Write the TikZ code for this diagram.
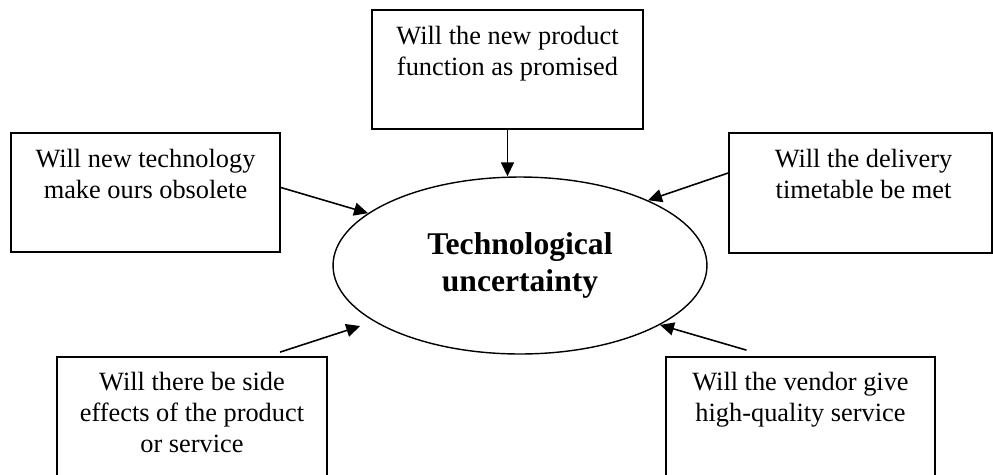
\documentclass[tikz,border=0pt]{standalone}
\usepackage{fontspec}
\setmainfont{Liberation Serif}
\usetikzlibrary{shapes.geometric, arrows.meta, positioning, calc}

\begin{document}
\begin{tikzpicture}[
    x=0.02cm, y=-0.02cm,
    box/.style={rectangle, draw=black, line width=1pt, inner sep=0pt},
    boxtext/.style={anchor=north, align=center, inner sep=0pt, font=\fontsize{15}{17.6}\selectfont},
    arrow/.style={-{Triangle[length=0.28cm, width=0.26cm]}, line width=0.9pt}
]
\useasboundingbox (0,0) rectangle (993,474);
\clip (0,0) rectangle (993,474);

% === Central issue ===
\node[ellipse, draw=black, line width=0.8pt, minimum width=7.48cm, minimum height=3.54cm, inner sep=0pt,
      align=center, font=\fontsize{18}{21}\selectfont\bfseries] (tech) at (520,265.5) {Technological\\uncertainty};

% === Questions around it ===
\node[box, minimum width=5.42cm, minimum height=2.38cm] (func) at (507.5,69.5) {};
\node[boxtext] (functext) at ($(func.north)+(0,17)$) {Will the new product\\function as promised};

\node[box, minimum width=5.38cm, minimum height=2.38cm] (obsol) at (145.5,192.5) {};
\node[boxtext] (obsoltext) at ($(obsol.north)+(0,17)$) {Will new technology\\make ours obsolete};

\node[box, minimum width=5.26cm, minimum height=2.4cm] (deliv) at (860.5,193) {};
\node[boxtext] (delivtext) at ($(deliv.north)+(3,17)$) {Will the delivery\\timetable be met};

\node[box, minimum width=5.4cm, minimum height=2.6cm] (side) at (192,422) {};
\node[boxtext] (sidetext) at ($(side.north)+(0,16)$) {Will there be side\\effects of the product\\or service};

\node[box, minimum width=5.38cm, minimum height=2.6cm] (vendor) at (800.5,422) {};
\node[boxtext] (vendortext) at ($(vendor.north)+(0,16)$) {Will the vendor give\\high-quality service};

% === Arrows into the ellipse ===
\draw[arrow] (func.south) -- (func.south |- tech.north);
\draw[arrow] ($(obsol.east)+(0,-5)$) -- (tech.161.5);
\draw[arrow] ($(deliv.west)+(0,-20)$) -- (tech.27.5);
\draw[arrow, shorten >=0.29cm] ($(side.north)+(88,-4)$) -- (tech.201.5);
\draw[arrow] ($(vendor.north)+(-54,-6)$) -- (tech.337.9);

\end{tikzpicture}
\end{document}
